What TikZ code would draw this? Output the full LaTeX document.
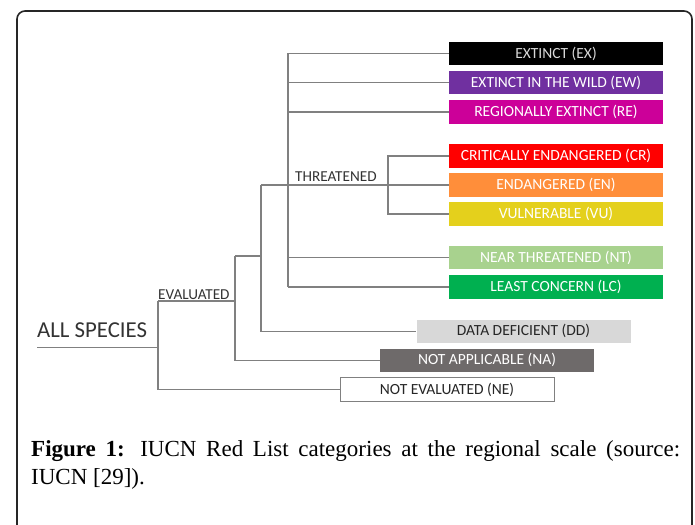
\documentclass[tikz,border=0pt]{standalone}
\usepackage{fontspec}
\setmainfont{Liberation Serif}
\newfontfamily\calib{Carlito}

\definecolor{ewcol}{RGB}{112,48,160}
\definecolor{recol}{RGB}{204,0,153}
\definecolor{encol}{RGB}{255,142,58}
\definecolor{vucol}{RGB}{228,208,28}
\definecolor{ntcol}{RGB}{168,210,142}
\definecolor{lccol}{RGB}{0,176,80}
\definecolor{ddcol}{RGB}{216,216,216}
\definecolor{nacol}{RGB}{110,106,106}
\definecolor{brcol}{RGB}{128,128,128}

\tikzset{
  cat/.style={minimum width=214pt,minimum height=23.5pt,inner sep=0pt,
    font=\calib\fontsize{15.5}{18}\selectfont,text=white},
  branch/.style={draw=brcol,line width=1.5pt},
  lbl/.style={anchor=base west,inner sep=0pt,text=black!80,
    font=\calib\fontsize{15.2}{18}\selectfont}
}

\begin{document}
\begin{tikzpicture}[x=1pt,y=-1pt]
\useasboundingbox (0,0) rectangle (695,524);
\draw[line width=1.6pt,black!85,rounded corners=8pt] (17,545) -- (17,11) -- (692,11) -- (692,545);

% categories
\node[cat,fill=black,text=white!85!black] (ex) at (556,53.5) {EXTINCT (EX)};
\node[cat,fill=ewcol] (ew) at (556,82.5) {EXTINCT IN THE WILD (EW)};
\node[cat,fill=recol] (re) at (556,112) {REGIONALLY EXTINCT (RE)};
\node[cat,fill=red] (cr) at (556,156) {CRITICALLY ENDANGERED (CR)};
\node[cat,fill=encol] (en) at (556,185) {ENDANGERED (EN)};
\node[cat,fill=vucol] (vu) at (556,214) {VULNERABLE (VU)};
\node[cat,fill=ntcol] (nt) at (556,257.7) {NEAR THREATENED (NT)};
\node[cat,fill=lccol] (lc) at (556,287) {LEAST CONCERN (LC)};
\node[cat,fill=ddcol,text=black!85] (dd) at (523.5,331.3) {DATA DEFICIENT (DD)};
\node[cat,fill=nacol] (na) at (487,360.3) {NOT APPLICABLE (NA)};
\node[cat,fill=white,draw=brcol,line width=1pt,text=black!85] (ne) at (447,389.5) {NOT EVALUATED (NE)};

% junctions
\coordinate (root) at (37,347.3);
\coordinate (allj) at (158,347.3);
\coordinate (evl) at (158,301);
\coordinate (evr) at (235,301);
\coordinate (evj) at (235,256);
\coordinate (grp) at (261,256);
\coordinate (thr) at (261,185);
\coordinate (crj) at (388,214);
\coordinate (nthr) at (288,287);

\draw[branch] (root) -- (allj);
\draw[branch] (evl) -- (evr);
\draw[branch] (evl) |- (ne.west);
\draw[branch] (evj) |- (na.west);
\draw[branch] (evj) -- (grp);
\draw[branch] (thr) |- (dd.west);
\draw[branch] (thr) -- (en.west);
\draw[branch] (cr.west) -| (crj) -- (vu.west);
\foreach \c in {ex,ew,re,nt}
  \draw[branch] (\c.west) -| (nthr);
\draw[branch] (lc.west) -- (nthr);

\node[lbl,font=\calib\fontsize{22.8}{26}\selectfont] (alls) at (37,337.3) {ALL SPECIES};
\node[lbl] (evt) at (158,299.3) {EVALUATED};
\node[lbl] (thrt) at (295,181) {THREATENED};

\node[anchor=base west,inner sep=0pt,text width=649pt,align=justify,
  font=\fontsize{23}{28}\selectfont] (cap) at (31,456)
  {\textbf{Figure 1:} IUCN Red List categories at the regional scale (source:\linebreak IUCN [29]).};
\end{tikzpicture}
\end{document}
